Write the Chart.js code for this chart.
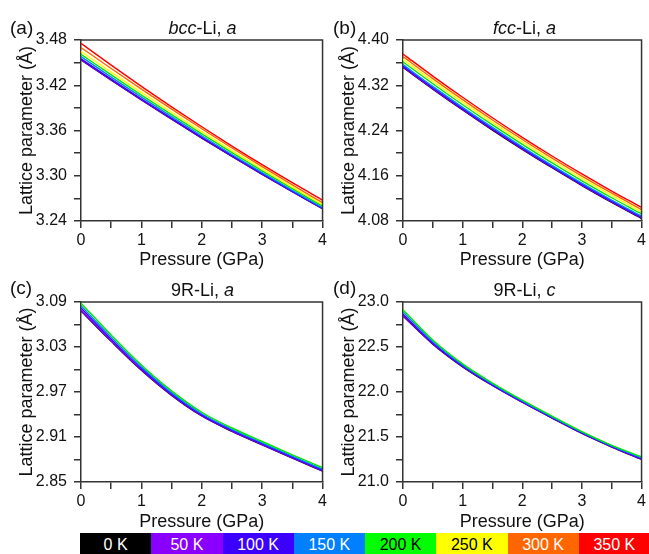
<!DOCTYPE html>
<html><head><meta charset="utf-8">
<script src="https://cdn.jsdelivr.net/npm/chart.js@4.4.0/dist/chart.umd.min.js"></script>
<style>
html,body{margin:0;padding:0;background:#fff;}
body{width:649px;height:554px;position:relative;overflow:hidden;font-family:'Liberation Sans',Arial,sans-serif;color:#111;}
canvas{position:absolute;}
.lbl{position:absolute;font-size:19px;line-height:normal;}
.ttl{position:absolute;font-size:18px;line-height:normal;text-align:center;white-space:nowrap;width:243px;}
#bar{position:absolute;left:80px;top:533px;height:21px;display:flex;}
#bar div{width:71.25px;height:21px;font-size:16px;text-align:center;line-height:23px;}
</style></head>
<body>
<canvas id="ca" width="330" height="271" style="left:0;top:0"></canvas>
<canvas id="cb" width="327" height="271" style="left:322px;top:0"></canvas>
<canvas id="cc" width="330" height="271" style="left:0;top:262px"></canvas>
<canvas id="cd" width="327" height="271" style="left:322px;top:262px"></canvas>
<div class="lbl" style="left:10px;top:17px">(a)</div>
<div class="lbl" style="left:333px;top:17px">(b)</div>
<div class="lbl" style="left:10px;top:277px">(c)</div>
<div class="lbl" style="left:333px;top:277px">(d)</div>
<div class="ttl" style="left:81px;top:18px"><i>bcc</i>-Li, <i>a</i></div>
<div class="ttl" style="left:403px;top:18px"><i>fcc</i>-Li, <i>a</i></div>
<div class="ttl" style="left:81px;top:280px">9R-Li, <i>a</i></div>
<div class="ttl" style="left:403px;top:280px">9R-Li, <i>c</i></div>
<div id="bar"></div>
<script>
// Pressure grid (GPa)
const pressure = [0, 0.5, 1, 1.5, 2, 2.5, 3, 3.5, 4];
// Temperatures and colours
const temps = ['0 K', '50 K', '100 K', '150 K', '200 K', '250 K', '300 K', '350 K'];
const tempColors = ['#000000', '#8a00ff', '#3c00ff', '#0080ff', '#00e800', '#ffff00', '#ff6600', '#ff0000'];
const tempTextColors = ['#fff', '#fff', '#fff', '#fff', '#000', '#000', '#fff', '#fff'];

// (a) bcc-Li, a
const bcc0K   = [3.4535, 3.4267, 3.4005, 3.3750, 3.3500, 3.3256, 3.3019, 3.2788, 3.2563];
const bcc50K  = [3.4540, 3.4272, 3.4009, 3.3753, 3.3503, 3.3259, 3.3022, 3.2790, 3.2565];
const bcc100K = [3.4550, 3.4281, 3.4018, 3.3761, 3.3510, 3.3265, 3.3027, 3.2794, 3.2568];
const bcc150K = [3.4580, 3.4308, 3.4043, 3.3783, 3.3530, 3.3282, 3.3042, 3.2806, 3.2578];
const bcc200K = [3.4610, 3.4337, 3.4070, 3.3810, 3.3555, 3.3306, 3.3065, 3.2828, 3.2598];
const bcc250K = [3.4650, 3.4375, 3.4106, 3.3842, 3.3585, 3.3334, 3.3090, 3.2850, 3.2618];
const bcc300K = [3.4700, 3.4422, 3.4149, 3.3883, 3.3623, 3.3368, 3.3121, 3.2878, 3.2643];
const bcc350K = [3.4756, 3.4467, 3.4186, 3.3914, 3.3650, 3.3394, 3.3147, 3.2908, 3.2678];

// (b) fcc-Li, a
const fcc0K   = [4.3515, 4.3132, 4.2763, 4.2408, 4.2067, 4.1741, 4.1427, 4.1129, 4.0844];
const fcc50K  = [4.3525, 4.3141, 4.2773, 4.2417, 4.2076, 4.1750, 4.1436, 4.1137, 4.0852];
const fcc100K = [4.3540, 4.3156, 4.2787, 4.2431, 4.2090, 4.1763, 4.1449, 4.1150, 4.0865];
const fcc150K = [4.3564, 4.3179, 4.2810, 4.2454, 4.2112, 4.1785, 4.1470, 4.1171, 4.0885];
const fcc200K = [4.3611, 4.3226, 4.2855, 4.2498, 4.2155, 4.1827, 4.1511, 4.1211, 4.0924];
const fcc250K = [4.3659, 4.3273, 4.2901, 4.2543, 4.2199, 4.1870, 4.1553, 4.1252, 4.0964];
const fcc300K = [4.3705, 4.3318, 4.2945, 4.2586, 4.2241, 4.1911, 4.1594, 4.1291, 4.1003];
const fcc350K = [4.3752, 4.3362, 4.2987, 4.2626, 4.2280, 4.1949, 4.1632, 4.1330, 4.1042];

// (c) 9R-Li, a  (0-200 K)
const r9a0K   = [3.0780, 3.0375, 2.9990, 2.9655, 2.9380, 2.9175, 2.8995, 2.8818, 2.8645];
const r9a50K  = [3.0790, 3.0383, 2.9996, 2.9660, 2.9385, 2.9180, 2.9000, 2.8823, 2.8650];
const r9a100K = [3.0820, 3.0405, 3.0015, 2.9675, 2.9395, 2.9190, 2.9010, 2.8832, 2.8660];
const r9a150K = [3.0850, 3.0430, 3.0035, 2.9692, 2.9410, 2.9203, 2.9023, 2.8845, 2.8672];
const r9a200K = [3.0885, 3.0460, 3.0060, 2.9715, 2.9430, 2.9220, 2.9040, 2.8862, 2.8690];

// (d) 9R-Li, c  (0-200 K)
const r9c0K   = [22.845, 22.532, 22.280, 22.072, 21.886, 21.710, 21.540, 21.389, 21.251];
const r9c50K  = [22.850, 22.536, 22.283, 22.074, 21.888, 21.712, 21.542, 21.391, 21.253];
const r9c100K = [22.865, 22.545, 22.290, 22.080, 21.893, 21.716, 21.546, 21.395, 21.258];
const r9c150K = [22.890, 22.561, 22.301, 22.090, 21.901, 21.723, 21.553, 21.401, 21.269];
const r9c200K = [22.915, 22.577, 22.312, 22.099, 21.909, 21.731, 21.560, 21.408, 21.280];

const FONT = "'Liberation Sans', Arial, sans-serif";

const framePlugin = {
  id: 'frame',
  afterDraw(chart) {
    const a = chart.chartArea, ctx = chart.ctx;
    ctx.save();
    ctx.strokeStyle = '#333';
    ctx.lineWidth = 1.5;
    ctx.beginPath();
    ctx.moveTo(a.left, a.top);
    ctx.lineTo(a.right, a.top);
    ctx.lineTo(a.right, a.bottom);
    ctx.stroke();
    ctx.restore();
  }
};

function makePanel(id, seriesList, yMin, yMax, minorStep, majorStep, dec, padRight, xHeight) {
  const n = seriesList.length;
  const datasets = seriesList.map((vals, i) => ({
    label: temps[i],
    data: pressure.map((p, k) => ({x: p, y: vals[k]})),
    borderColor: tempColors[i],
    backgroundColor: tempColors[i],
    borderWidth: 1.4,
    pointRadius: 0,
    cubicInterpolationMode: 'monotone',
    order: n - i
  }));
  new Chart(document.getElementById(id), {
    type: 'line',
    data: {datasets},
    plugins: [framePlugin],
    options: {
      responsive: false,
      animation: false,
      events: [],
      layout: {padding: {top: 40, right: padRight, left: 0, bottom: 0}},
      plugins: {legend: {display: false}, tooltip: {enabled: false}},
      scales: {
        x: {
          type: 'linear', min: 0, max: 4,
          afterFit: s => { s.height = xHeight; },
          ticks: {stepSize: 0.5, autoSkip: false, maxRotation: 0, padding: 3, color: '#111',
                  font: {family: FONT, size: 16},
                  callback: v => Number.isInteger(v) ? String(v) : ''},
          grid: {display: true, drawOnChartArea: false, drawTicks: true, tickLength: 7, color: '#333', lineWidth: 1.5},
          border: {display: true, color: '#333', width: 1.5},
          title: {display: true, text: 'Pressure (GPa)', color: '#111', font: {family: FONT, size: 18}, padding: {top: 0, bottom: 0}}
        },
        y: {
          type: 'linear', min: yMin, max: yMax,
          afterFit: s => { s.width = 81; },
          ticks: {stepSize: minorStep, autoSkip: false, padding: 7, color: '#111',
                  font: {family: FONT, size: 16},
                  callback: v => {
                    const k = Math.round((v - yMin) / majorStep);
                    return Math.abs(yMin + k * majorStep - v) < 1e-6 ? v.toFixed(dec) : '';
                  }},
          grid: {display: true, drawOnChartArea: false, drawTicks: true, tickLength: 7, color: '#333', lineWidth: 1.5},
          border: {display: true, color: '#333', width: 1.5},
          title: {display: true, text: 'Lattice parameter (Å)', color: '#111', font: {family: FONT, size: 18}, padding: {top: 16, bottom: 0}}
        }
      }
    }
  });
}

makePanel('ca', [bcc0K, bcc50K, bcc100K, bcc150K, bcc200K, bcc250K, bcc300K, bcc350K], 3.24, 3.48, 0.03, 0.06, 2, 6, 50);
makePanel('cb', [fcc0K, fcc50K, fcc100K, fcc150K, fcc200K, fcc250K, fcc300K, fcc350K], 4.08, 4.40, 0.04, 0.08, 2, 3, 50);
makePanel('cc', [r9a0K, r9a50K, r9a100K, r9a150K, r9a200K], 2.85, 3.09, 0.03, 0.06, 2, 6, 51);
makePanel('cd', [r9c0K, r9c50K, r9c100K, r9c150K, r9c200K], 21.0, 23.0, 0.25, 0.5, 1, 3, 51);

// Colour bar legend
const bar = document.getElementById('bar');
temps.forEach((t, i) => {
  const d = document.createElement('div');
  d.textContent = t;
  d.style.background = tempColors[i] === '#00e800' ? '#00ff00' : tempColors[i];
  d.style.color = tempTextColors[i];
  bar.appendChild(d);
});
</script>
</body></html>
